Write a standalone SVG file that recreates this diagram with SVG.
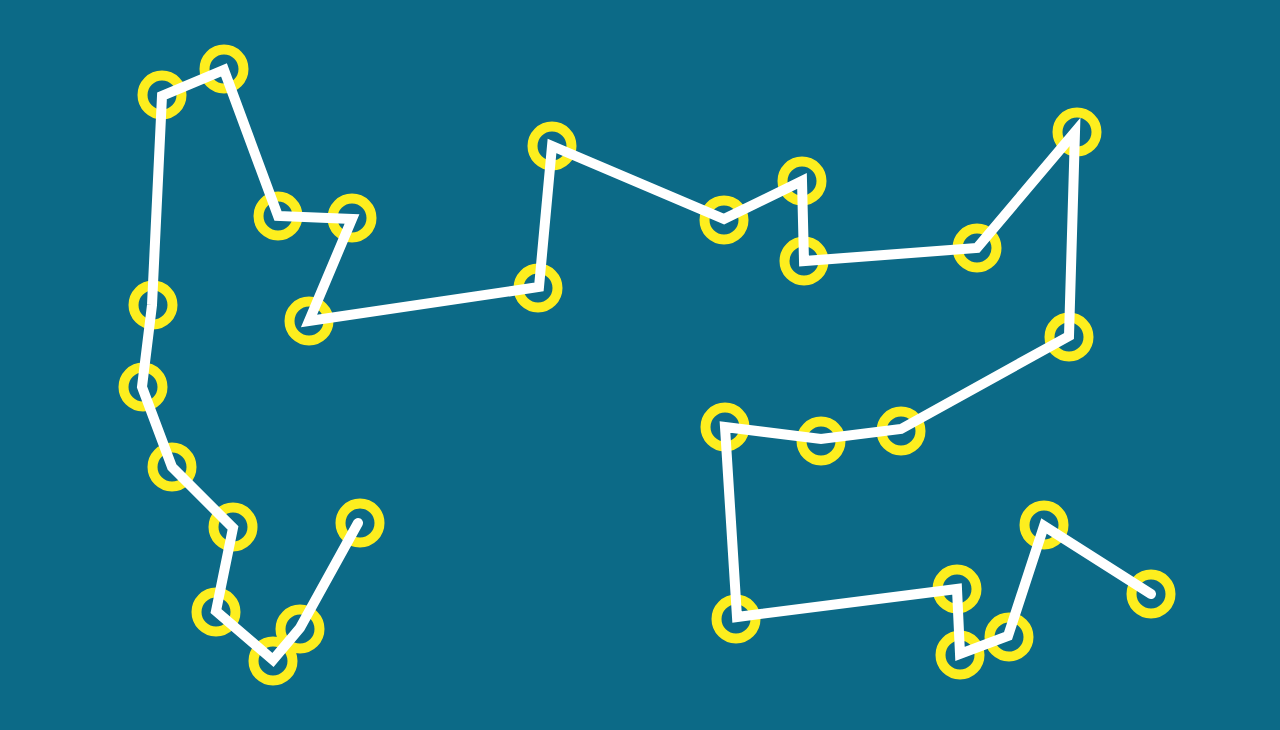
<svg xmlns="http://www.w3.org/2000/svg" width="1280" height="730" viewBox="0 0 1280 730">
<style>
.n{fill:none;stroke:#fdee1e;stroke-width:10}
.e{fill:none;stroke:#ffffff;stroke-width:10;stroke-linejoin:miter;stroke-linecap:round}
</style>
<rect width="1280" height="730" fill="#0c6a87"/>
<g id="nodes">
<g id="n1"><circle class="n" cx="360" cy="523" r="19.5"/></g>
<g id="n2"><circle class="n" cx="300" cy="629" r="19.5"/></g>
<g id="n3"><circle class="n" cx="273" cy="661" r="19.5"/></g>
<g id="n4"><circle class="n" cx="216" cy="612" r="19.5"/></g>
<g id="n5"><circle class="n" cx="233" cy="527" r="19.5"/></g>
<g id="n6"><circle class="n" cx="172" cy="467" r="19.5"/></g>
<g id="n7"><circle class="n" cx="143" cy="387" r="19.5"/></g>
<g id="n8"><circle class="n" cx="153" cy="305" r="19.5"/></g>
<g id="n9"><circle class="n" cx="162" cy="95" r="19.5"/></g>
<g id="n10"><circle class="n" cx="224" cy="69" r="19.5"/></g>
<g id="n11"><circle class="n" cx="278" cy="216" r="19.5"/></g>
<g id="n12"><circle class="n" cx="352" cy="218" r="19.5"/></g>
<g id="n13"><circle class="n" cx="309" cy="321" r="19.5"/></g>
<g id="n14"><circle class="n" cx="538" cy="288" r="19.5"/></g>
<g id="n15"><circle class="n" cx="552" cy="146" r="19.5"/></g>
<g id="n16"><circle class="n" cx="724" cy="220" r="19.5"/></g>
<g id="n17"><circle class="n" cx="802" cy="181" r="19.5"/></g>
<g id="n18"><circle class="n" cx="804" cy="261" r="19.5"/></g>
<g id="n19"><circle class="n" cx="977" cy="248" r="19.5"/></g>
<g id="n20"><circle class="n" cx="1077" cy="132" r="19.5"/></g>
<g id="n21"><circle class="n" cx="1069" cy="337" r="19.5"/></g>
<g id="n22"><circle class="n" cx="901" cy="431" r="19.5"/></g>
<g id="n23"><circle class="n" cx="821" cy="441" r="19.5"/></g>
<g id="n24"><circle class="n" cx="725" cy="427" r="19.5"/></g>
<g id="n25"><circle class="n" cx="736" cy="619" r="19.5"/></g>
<g id="n26"><circle class="n" cx="957" cy="589" r="19.5"/></g>
<g id="n27"><circle class="n" cx="960" cy="655" r="19.5"/></g>
<g id="n28"><circle class="n" cx="1009" cy="637" r="19.5"/></g>
<g id="n29"><circle class="n" cx="1044" cy="525" r="19.5"/></g>
<g id="n30"><circle class="n" cx="1151" cy="594" r="19.5"/></g>
</g>
<g id="connectors">
<polyline class="e" points="358,523 300,628 273,660 216,611 233,528 172,467 142,387 152,305 162,96 224,70 278,216 352,219 309,321 539,287 552,146 724,219 802,181 804,261 977,248 1075,132 1069,336 901,429 821,439 725,427 737,617 957,589 960,654 1008,636 1044,526 1151,594"/>
</g>
</svg>
